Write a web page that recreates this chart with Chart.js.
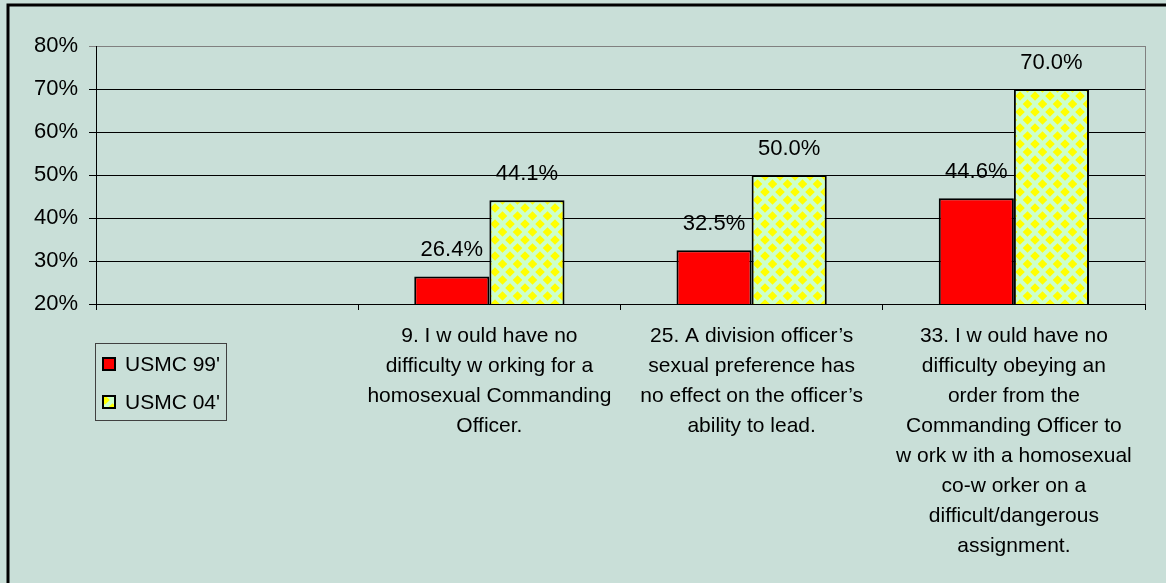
<!DOCTYPE html>
<html>
<head>
<meta charset="utf-8">
<script src="https://cdn.jsdelivr.net/npm/chart.js@4"></script>
<style>
    html, body { margin: 0; padding: 0; background: #C9DFD8; }
    #wrap { width: 1166px; height: 583px; }
</style>
</head>
<body>
<div id="wrap"><canvas id="chart" width="1166" height="583"></canvas></div>
<script>
// Survey items (first column left empty, legend sits under it)
const categories = [
    '',
    ['9. I w ould have no', 'difficulty w orking for a', 'homosexual Commanding', 'Officer.'],
    ['25. A division officer\u2019s', 'sexual preference has', 'no effect on the officer\u2019s', 'ability to lead.'],
    ['33. I w ould have no', 'difficulty obeying an', 'order from the', 'Commanding Officer to', 'w ork w ith a homosexual', 'co-w orker on a', 'difficult/dangerous', 'assignment.']
];
const seriesNames = ["USMC 99'", "USMC 04'"];
const usmc99 = [null, 26.4, 32.5, 44.6];
const usmc04 = [null, 44.1, 50.0, 70.0];
const yTicks = [20, 30, 40, 50, 60, 70, 80];

const FONT = '"Liberation Sans", Arial, sans-serif';

function makeDiamonds() {
    const c = document.createElement('canvas');
    c.width = 15; c.height = 16;
    const g = c.getContext('2d');
    g.fillStyle = '#CCFFCC';
    g.fillRect(0, 0, 15, 16);
    g.fillStyle = '#FFFF00';
    const diamond = (cx, cy, r) => {
        g.beginPath();
        g.moveTo(cx, cy - r); g.lineTo(cx + r, cy); g.lineTo(cx, cy + r); g.lineTo(cx - r, cy);
        g.closePath(); g.fill();
    };
    diamond(7.5, 8, 4.8);
    [[0, 0], [15, 0], [0, 16], [15, 16]].forEach(([x, y]) => diamond(x, y, 4.8));
    return g.createPattern(c, 'repeat');
}
const diamonds = makeDiamonds();

const framePlugin = {
    id: 'frame',
    beforeDraw(chart) {
        const ctx = chart.ctx;
        ctx.save();
        ctx.fillStyle = '#C9DFD8';
        ctx.fillRect(0, 0, chart.width, chart.height);
        ctx.strokeStyle = '#000';
        ctx.lineWidth = 3;
        ctx.beginPath();
        ctx.moveTo(8, chart.height + 2);
        ctx.lineTo(8, 5);
        ctx.lineTo(chart.width + 2, 5);
        ctx.stroke();
        ctx.restore();
    },
    beforeDatasetsDraw(chart) {
        const a = chart.chartArea, ctx = chart.ctx;
        ctx.save();
        ctx.strokeStyle = '#808080';
        ctx.lineWidth = 1;
        ctx.beginPath();
        ctx.moveTo(Math.round(a.right) + 0.5, a.top);
        ctx.lineTo(Math.round(a.right) + 0.5, a.bottom);
        ctx.stroke();
        ctx.restore();
    }
};

const valueLabels = {
    id: 'valueLabels',
    afterDatasetsDraw(chart) {
        const ctx = chart.ctx;
        ctx.save();
        ctx.font = '22px ' + FONT;
        ctx.fillStyle = '#000';
        ctx.textAlign = 'center';
        ctx.textBaseline = 'alphabetic';
        chart.data.datasets.forEach((ds, i) => {
            chart.getDatasetMeta(i).data.forEach((bar, j) => {
                if (ds.data[j] == null) return;
                ctx.fillText(ds.data[j].toFixed(1) + '%', bar.x, bar.y - 20);
            });
        });
        ctx.restore();
    }
};

const boxLegend = {
    id: 'boxLegend',
    afterDraw(chart) {
        const ctx = chart.ctx;
        const x = 95, y = 343, w = 131, h = 77;
        ctx.save();
        ctx.strokeStyle = '#404040';
        ctx.lineWidth = 1;
        ctx.strokeRect(x + 0.5, y + 0.5, w, h);
        ctx.font = '21px ' + FONT;
        ctx.textBaseline = 'middle';
        chart.data.datasets.forEach((ds, i) => {
            const cy = y + 21 + i * 38;
            ctx.fillStyle = ds.backgroundColor;
            ctx.fillRect(103, cy - 6, 12, 12);
            ctx.strokeStyle = '#000';
            ctx.lineWidth = 2;
            ctx.strokeRect(103, cy - 6, 12, 12);
            ctx.fillStyle = '#000';
            ctx.fillText(ds.label, 125, cy + 1);
        });
        ctx.restore();
    }
};

new Chart(document.getElementById('chart'), {
    type: 'bar',
    data: {
        labels: categories,
        datasets: [
            { label: seriesNames[0], data: usmc99, backgroundColor: '#FF0000', borderColor: '#000', borderWidth: 2 },
            { label: seriesNames[1], data: usmc04, backgroundColor: diamonds, borderColor: '#000', borderWidth: 2 }
        ]
    },
    options: {
        responsive: false,
        animation: false,
        layout: { padding: { left: 10, top: 46, right: 21, bottom: 0 } },
        datasets: { bar: { categoryPercentage: 0.573, barPercentage: 1.0, borderSkipped: false } },
        plugins: {
            legend: { display: false },
            tooltip: { enabled: false }
        },
        scales: {
            x: {
                grid: { drawOnChartArea: false, drawTicks: true, tickLength: 6, color: '#000' },
                border: { color: '#000', width: 1 },
                ticks: { color: '#000', padding: 11, maxRotation: 0, autoSkip: false,
                    font: { family: FONT, size: 21, lineHeight: 30 / 21 } },
                afterFit(s) { s.height = 583 - 304; }
            },
            y: {
                min: 20, max: 80,
                afterBuildTicks(s) { s.ticks = yTicks.map(v => ({ value: v })); },
                grid: { color: c => (c.tick && c.tick.value === 80 ? '#808080' : '#000'), tickLength: 7 },
                border: { color: '#000', width: 1 },
                ticks: { color: '#000', padding: 11, callback: v => v + '%',
                    font: { family: FONT, size: 22 } },
                afterFit(s) { s.width = 86; }
            }
        }
    },
    plugins: [framePlugin, valueLabels, boxLegend]
});
</script>
</body>
</html>
